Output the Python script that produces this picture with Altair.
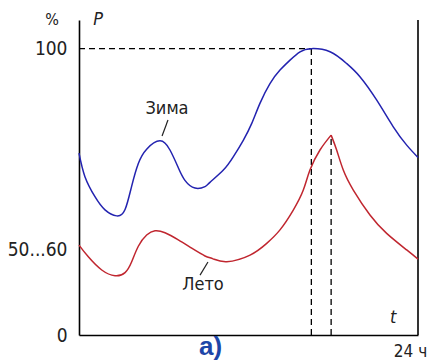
import altair as alt
import pandas as pd

# Daily load curves, P in % of the winter peak, t in hours
winter_t = [0, 0.42, 1.13, 1.84, 2.67, 3.26, 3.73, 4.20, 4.79, 5.73, 6.44, 7.03, 7.50,
            8.21, 8.92, 9.27, 10.22, 10.92, 11.63, 12.23, 12.81, 13.52, 14.23, 14.94,
            15.65, 16.45, 17.77, 18.95, 19.89, 21.08, 22.25, 23.20, 24]
winter_p = [63.5, 55.3, 48.3, 43.7, 41.6, 43.8, 52.0, 59.9, 64.9, 67.8, 64.6, 58.4, 54.0,
            51.3, 51.8, 53.3, 57.6, 62.2, 68.0, 73.9, 80.9, 87.8, 92.5, 96.0,
            98.9, 100.0, 98.9, 94.8, 90.2, 82.0, 72.7, 66.3, 62.0]

summer_rise_t = [0, 0.66, 1.61, 2.55, 3.26, 3.73, 4.20, 4.79, 5.38, 6.09, 7.03, 7.98,
                 8.92, 9.49, 10.46, 12.11, 13.29, 14.23, 15.17, 15.88, 16.35, 17.06, 17.85]
summer_rise_p = [31.4, 27.3, 22.7, 20.7, 21.8, 25.6, 31.0, 34.9, 36.4, 35.7, 33.2, 30.3,
                 27.6, 26.6, 25.6, 27.9, 32.0, 36.7, 43.6, 50.6, 57.6, 64.6, 69.8]
summer_fall_t = [17.85, 18.24, 18.71, 19.42, 20.60, 21.78, 23.20, 24]
summer_fall_p = [69.8, 64.6, 57.6, 50.6, 41.9, 35.5, 29.7, 26.5]

y_tick_values = [0, 30, 100]
y_tick_labels = ["0", "50...60", "100"]

winter_peak_t = 16.45
summer_peak_t = 17.85
summer_peak_p = 69.8

BLUE = "#2323b0"
RED = "#c0262f"
FONT = "DejaVu Sans Condensed, Liberation Sans Narrow, Liberation Sans, sans-serif"

x_scale = alt.Scale(domain=[0, 24], nice=False, zero=False)
y_scale = alt.Scale(domain=[0, 110], nice=False)

winter = pd.DataFrame({"t": winter_t, "p": winter_p})
summer = pd.concat([
    pd.DataFrame({"t": summer_rise_t, "p": summer_rise_p, "seg": "rise"}),
    pd.DataFrame({"t": summer_fall_t, "p": summer_fall_p, "seg": "fall"}),
])

label_expr = " : ".join(
    f"datum.value == {v} ? '{s}'" for v, s in zip(y_tick_values[:-1], y_tick_labels[:-1])
) + f" : '{y_tick_labels[-1]}'"

base = alt.Chart(winter).encode(
    x=alt.X("t:Q", scale=x_scale, title=None,
            axis=alt.Axis(values=[24], labelExpr="'24 ч'", ticks=False, grid=False,
                          domainColor="black", domainWidth=1.6, labelFont=FONT,
                          labelFontSize=17, labelColor="#222", labelPadding=8,
                          labelAlign="center", labelOffset=-8, labelFlush=False)),
    y=alt.Y("p:Q", scale=y_scale, title=None,
            axis=alt.Axis(values=y_tick_values, labelExpr=label_expr, ticks=False,
                          grid=False, domainColor="black", domainWidth=1.6,
                          labelFont=FONT, labelFontSize=19, labelColor="#222",
                          labelPadding=12)),
)

winter_line = base.mark_line(color=BLUE, strokeWidth=1.5, interpolate="natural")

summer_line = alt.Chart(summer).mark_line(
    color=RED, strokeWidth=1.5, interpolate="natural"
).encode(x=alt.X("t:Q", scale=x_scale), y=alt.Y("p:Q", scale=y_scale), detail="seg:N")

# Right border of the frame
frame = alt.Chart(pd.DataFrame({"t": [24], "p0": [0], "p1": [110]})).mark_rule(
    color="black", strokeWidth=1.6
).encode(x=alt.X("t:Q", scale=x_scale), y=alt.Y("p0:Q", scale=y_scale), y2="p1:Q")

# Dashed guides to the peaks
guides = pd.DataFrame({
    "t": [0, winter_peak_t, summer_peak_t],
    "t2": [winter_peak_t, winter_peak_t, summer_peak_t],
    "p": [100, 0, 0],
    "p2": [100, 100, summer_peak_p],
})
dashed = alt.Chart(guides).mark_rule(
    color="black", strokeWidth=1.3, strokeDash=[6, 4]
).encode(x=alt.X("t:Q", scale=x_scale), x2="t2:Q",
         y=alt.Y("p:Q", scale=y_scale), y2="p2:Q")

# Leader lines from the season labels to the curves
leaders = pd.DataFrame({
    "t": [6.30, 9.13], "t2": [5.88, 8.57],
    "p": [75.1, 25.5], "p2": [69.5, 20.9],
})
leader_lines = alt.Chart(leaders).mark_rule(color="#222", strokeWidth=1.2).encode(
    x=alt.X("t:Q", scale=x_scale), x2="t2:Q",
    y=alt.Y("p:Q", scale=y_scale), y2="p2:Q")

labels = pd.DataFrame({
    "t": [6.23, 8.78], "p": [78.9, 17.5], "txt": ["Зима", "Лето"],
})
season_text = alt.Chart(labels).mark_text(
    font=FONT, fontSize=18, color="#222"
).encode(x=alt.X("t:Q", scale=x_scale), y=alt.Y("p:Q", scale=y_scale), text="txt:N")

units = pd.DataFrame({
    "t": [-1.9, 1.35, 22.25], "p": [110, 110, 5.9], "txt": ["%", "P", "t"],
    "style": ["normal", "italic", "italic"],
})
unit_plain = alt.Chart(units[units["style"] == "normal"]).mark_text(
    font=FONT, fontSize=16, color="#222"
).encode(x=alt.X("t:Q", scale=x_scale), y=alt.Y("p:Q", scale=y_scale), text="txt:N")
unit_italic = alt.Chart(units[units["style"] == "italic"]).mark_text(
    font=FONT, fontSize=18, fontStyle="italic", color="#222"
).encode(x=alt.X("t:Q", scale=x_scale), y=alt.Y("p:Q", scale=y_scale), text="txt:N")

caption = alt.Chart(pd.DataFrame({"t": [9.32], "p": [-4.2], "txt": ["а)"]})).mark_text(
    font="Liberation Sans", fontSize=26, fontWeight="bold", color="#1d46a8"
).encode(x=alt.X("t:Q", scale=x_scale), y=alt.Y("p:Q", scale=y_scale), text="txt:N")

chart = alt.layer(
    dashed, frame, winter_line, summer_line, leader_lines,
    season_text, unit_plain, unit_italic, caption,
).properties(
    width=339, height=315,
    autosize=alt.AutoSizeParams(type="none"),
    padding={"left": 79, "top": 20, "right": 15, "bottom": 26},
    background="white",
).configure_view(strokeWidth=0)

chart.save("out.html", embed_options={"renderer": "svg", "actions": False})
